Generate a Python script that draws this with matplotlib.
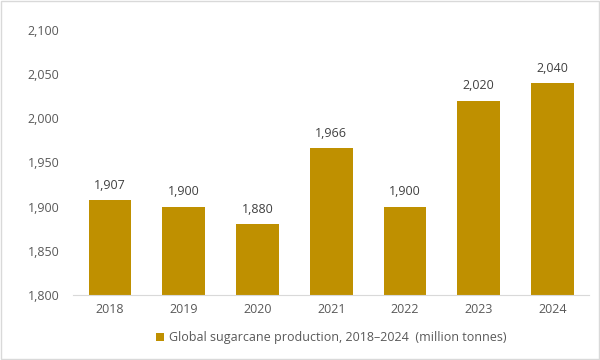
import matplotlib
matplotlib.use("Agg")
import matplotlib.pyplot as plt
from matplotlib.patches import Rectangle

years = ["2018", "2019", "2020", "2021", "2022", "2023", "2024"]
production = [1907, 1900, 1880, 1966, 1900, 2020, 2040]
y_ticks = [1800, 1850, 1900, 1950, 2000, 2050, 2100]

text_color = "#595959"
bar_color = "#BF9000"
plt.rcParams["font.family"] = ["Open Sans", "DejaVu Sans"]

fig = plt.figure(figsize=(6, 3.6), dpi=100)
ax = fig.add_axes([0.122, 0.181, 0.860, 0.736])

bars = ax.bar(years, production, width=0.58, color=bar_color,
              label="Global sugarcane production, 2018\u20132024  (million tonnes)")
for bar, val in zip(bars, production):
    ax.annotate("{:,}".format(val), (bar.get_x() + bar.get_width() / 2, val),
                xytext=(0, 6), textcoords="offset points", ha="center",
                va="bottom", fontsize=9, color="#404040")

ax.set_ylim(1800, 2100)
ax.set_yticks(y_ticks)
ax.set_yticklabels(["{:,}".format(t) for t in y_ticks])
ax.set_xlim(-0.5, len(years) - 0.5)
for side in ["top", "right", "left"]:
    ax.spines[side].set_visible(False)
ax.spines["bottom"].set_color("#D9D9D9")
ax.tick_params(axis="both", length=0, labelsize=9, colors=text_color)
ax.tick_params(axis="y", pad=10)
ax.tick_params(axis="x", pad=6)

ax.legend(loc="upper center", bbox_to_anchor=(0.5, -0.095), frameon=False,
          fontsize=9, labelcolor=text_color, handlelength=0.7,
          handleheight=0.7, handletextpad=0.4)

fig.patches.append(Rectangle((0.002, 0.003), 0.996, 0.994, transform=fig.transFigure,
                             fill=False, edgecolor="#D9D9D9", linewidth=1))

fig.savefig("out.png", dpi=100)
